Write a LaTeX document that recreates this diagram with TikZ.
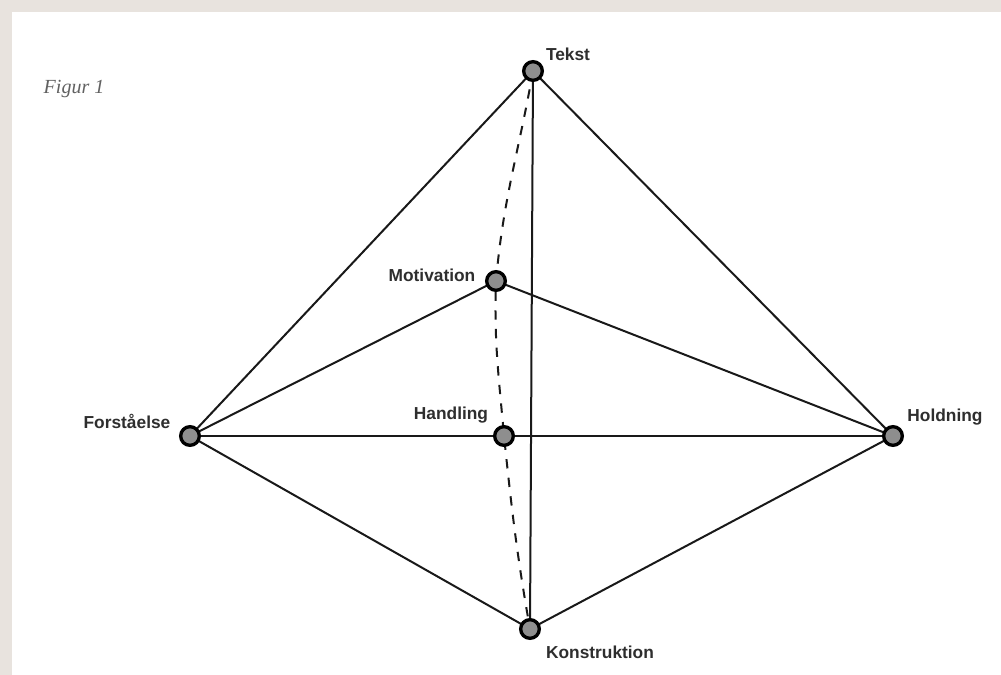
\documentclass[tikz,border=0pt]{standalone}
\usepackage{fontspec}
\setmainfont{Liberation Sans}
\newfontfamily\figfont{Liberation Serif}
\definecolor{beige}{HTML}{E8E3DE}
\definecolor{dotfill}{HTML}{8E8E8E}
\definecolor{txt}{HTML}{2E2E2E}
\begin{document}
\begin{tikzpicture}[x=0.75pt,y=-0.75pt,
  pt/.style={circle,draw=black,line width=2.5pt,fill=dotfill,minimum size=14pt,inner sep=0pt},
  lbl/.style={font=\fontsize{13}{15}\selectfont\bfseries,text=txt,inner sep=0pt},
  edge/.style={line width=1.5pt,draw=black!90},
  dedge/.style={line width=1.5pt,draw=black!90,dash pattern=on 7pt off 7pt}]
\fill[beige] (0,0) rectangle (1001,675);
\fill[white] (12,12) rectangle (1001,675);
\useasboundingbox (0,0) rectangle (1001,675);
\coordinate (T) at (533,71);
\coordinate (M) at (496,281);
\coordinate (F) at (190,436);
\coordinate (H) at (504,436);
\coordinate (D) at (893,436);
\coordinate (K) at (530,629);
\draw[edge] (T) -- (F);
\draw[edge] (T) -- (D);
\draw[edge] (T) -- (K);
\draw[edge] (M) -- (F);
\draw[edge] (M) -- (D);
\draw[edge] (F) -- (D);
\draw[edge] (F) -- (K);
\draw[edge] (D) -- (K);
\draw[dedge] (T) to[out=-100,in=85] (M) to[out=-92,in=95] (H) to[out=-84,in=100] (K);
\node[pt] (nT) at (T) {};
\node[pt] (nM) at (M) {};
\node[pt] (nF) at (F) {};
\node[pt] (nH) at (H) {};
\node[pt] (nD) at (D) {};
\node[pt] (nK) at (K) {};
\node[lbl] (lT) at (568,54) {Tekst};
\node[lbl] (lM) at (432,275) {Motivation};
\node[lbl] (lF) at (127,421) {Forståelse};
\node[lbl] (lH) at (451,415) {Handling};
\node[lbl] (lD) at (945,417) {Holdning};
\node[lbl] (lK) at (600,652) {Konstruktion};
\node[font=\figfont\itshape\fontsize{15}{17}\selectfont,text=black!62,inner sep=0pt] (fig) at (74,89) {Figur 1};
\end{tikzpicture}
\end{document}
